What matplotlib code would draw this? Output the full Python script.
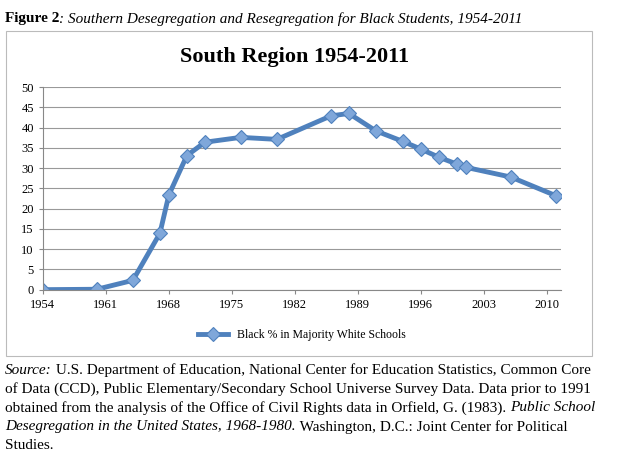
import matplotlib.pyplot as plt
import numpy as np

years = [1954, 1960, 1964, 1967, 1968, 1970, 1972, 1976, 1980, 1986, 1988,
         1991, 1994, 1996, 1998, 2000, 2001, 2006, 2011]
pct = [0, 0.1, 2.3, 13.9, 23.4, 33.1, 36.4, 37.6, 37.1, 42.9, 43.5,
       39.2, 36.6, 34.7, 32.7, 31.0, 30.2, 27.8, 23.2]
xticks = [1954, 1961, 1968, 1975, 1982, 1989, 1996, 2003, 2010]

serif = 'Liberation Serif'
fig = plt.figure(figsize=(6.4, 4.71), dpi=100)
renderer = fig.canvas.get_renderer()


def line_of(y, parts, size=11):
    # parts: list of (text, style); placed one after another
    x = 0.008
    for txt, st in parts:
        kw = {}
        if st == 'i':
            kw['style'] = 'italic'
        if st == 'b':
            kw['fontweight'] = 'bold'
        t = fig.text(x, y, txt, fontsize=size, family=serif, va='top', **kw)
        w = t.get_window_extent(renderer).width
        x += w / fig.bbox.width


line_of(0.975, [('Figure 2', 'b'), (': Southern Desegregation and Resegregation for Black Students, 1954-2011', 'i')], 11)

frame = plt.Rectangle((0.01, 0.245), 0.915, 0.69, transform=fig.transFigure,
                      fill=False, edgecolor='#bbbbbb', lw=0.8)
fig.add_artist(frame)
fig.text(0.46, 0.88, 'South Region 1954-2011', ha='center', va='center',
         fontsize=16, fontweight='bold', family=serif)

ax = fig.add_axes([0.067, 0.385, 0.81, 0.43])
ax.plot(years, pct, color='#4f81bd', lw=3.5, marker='D', markersize=7,
        markerfacecolor='#7fa7da', markeredgecolor='#4f81bd', markeredgewidth=0.8,
        label='Black % in Majority White Schools')
ax.set_xlim(1954, 2011.6)
ax.set_ylim(0, 50)
ax.set_yticks(range(0, 51, 5))
ax.set_xticks(xticks)
ax.grid(axis='y', color='#999999', lw=0.8)
ax.set_axisbelow(True)
for s in ['top', 'right']:
    ax.spines[s].set_visible(False)
ax.spines['left'].set_color('#888888')
ax.spines['bottom'].set_color('#888888')
ax.tick_params(labelsize=9, length=3, color='#888888')
for lab in ax.get_xticklabels() + ax.get_yticklabels():
    lab.set_family(serif)
ax.legend(loc='upper center', bbox_to_anchor=(0.5, -0.14), frameon=False,
          prop={'family': serif, 'size': 8.5}, handlelength=2.5)

sz = 11
line_of(0.228, [('Source:', 'i'), (' U.S. Department of Education, National Center for Education Statistics, Common Core', '')], sz)
line_of(0.188, [('of Data (CCD), Public Elementary/Secondary School Universe Survey Data. Data prior to 1991', '')], sz)
line_of(0.148, [('obtained from the analysis of the Office of Civil Rights data in Orfield, G. (1983). ', ''), ('Public School', 'i')], sz)
line_of(0.108, [('Desegregation in the United States, 1968-1980.', 'i'), (' Washington, D.C.: Joint Center for Political', '')], sz)
line_of(0.068, [('Studies.', '')], sz)

fig.savefig('out.png', dpi=100, facecolor='white')
